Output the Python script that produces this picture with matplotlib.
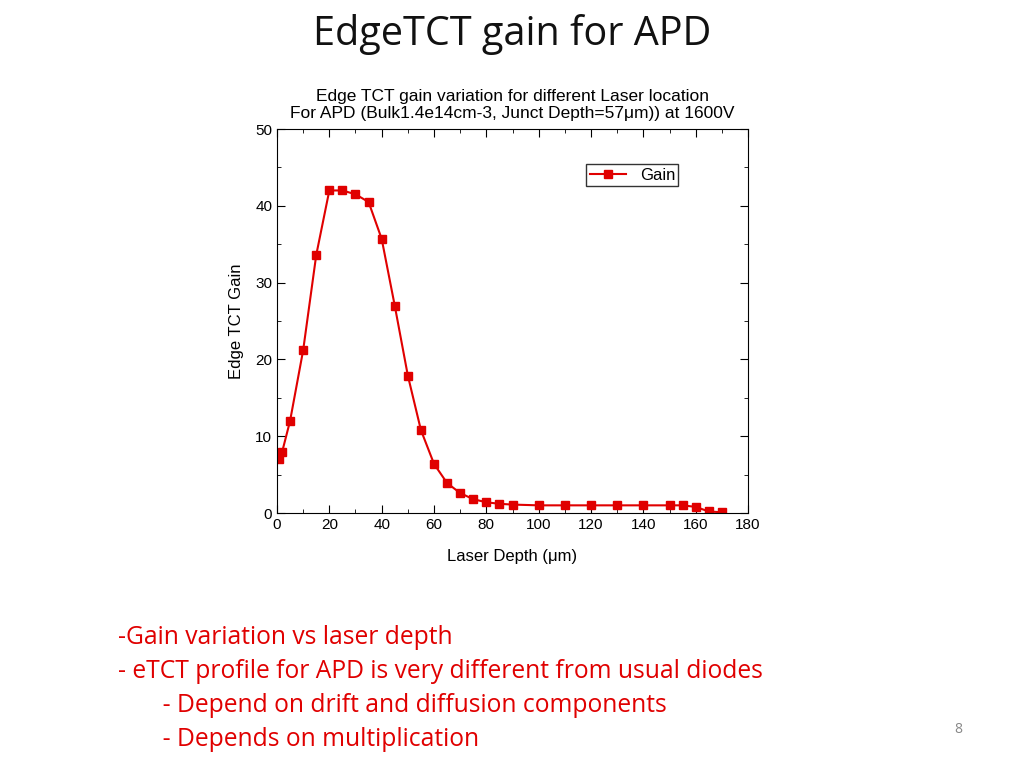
import matplotlib
matplotlib.use("Agg")
import matplotlib.pyplot as plt

depth = [0.8, 2, 5, 10, 15, 20, 25, 30, 35, 40, 45, 50, 55, 60, 65, 70, 75, 80, 85, 90,
         100, 110, 120, 130, 140, 150, 155, 160, 165, 170]
gain = [7.0, 8.0, 12.0, 21.2, 33.6, 42.0, 42.0, 41.5, 40.5, 35.7, 27.0, 17.9, 10.8, 6.4,
        3.9, 2.6, 1.8, 1.4, 1.2, 1.1, 1.0, 1.0, 1.0, 1.0, 1.0, 1.0, 1.0, 0.8, 0.2, 0.1]
xticks = [0, 20, 40, 60, 80, 100, 120, 140, 160, 180]
yticks = [0, 10, 20, 30, 40, 50]

plt.rcParams["font.family"] = "Liberation Sans"
fig = plt.figure(figsize=(10.24, 7.68), dpi=100)
fig.text(0.5, 0.955, "EdgeTCT gain for APD", ha="center", va="center",
         fontsize=28.5, family="Open Sans", color="#111111")

ax = fig.add_axes([0.2705, 0.332, 0.46, 0.5])
ax.plot(depth, gain, color="#e00000", marker="s", markersize=6, lw=1.5, label="Gain")
ax.set_xlim(0, 180)
ax.set_ylim(0, 50)
ax.set_xticks(xticks)
ax.set_yticks(yticks)
ax.set_xticks(range(10, 180, 20), minor=True)
ax.set_yticks(range(5, 50, 10), minor=True)
ax.tick_params(which="both", direction="in", top=True, right=True, labelsize=11)
ax.tick_params(which="major", length=6)
ax.tick_params(which="minor", length=3)
ax.set_xlabel("Laser Depth (μm)", fontsize=12, labelpad=12)
ax.set_ylabel("Edge TCT Gain", fontsize=12, labelpad=8)
ax.set_title("Edge TCT gain variation for different Laser location\n"
             "For APD (Bulk1.4e14cm-3, Junct Depth=57μm)) at 1600V", fontsize=12.5, pad=8)
leg = ax.legend(loc="upper right", bbox_to_anchor=(0.87, 0.93), fontsize=12,
                fancybox=False, edgecolor="black", handlelength=2.2, borderpad=0.2)

lines = ["-Gain variation vs laser depth",
         "- eTCT profile for APD is very different from usual diodes",
         "       - Depend on drift and diffusion components",
         "       - Depends on multiplication"]
for i, t in enumerate(lines):
    fig.text(0.115, 0.17 - i * 0.0445, t, fontsize=17.7, color="#e00000",
             family="Open Sans", va="center")
fig.text(0.932, 0.045, "8", fontsize=10, color="#888888", family="Open Sans")
fig.savefig("out.png", dpi=100)
